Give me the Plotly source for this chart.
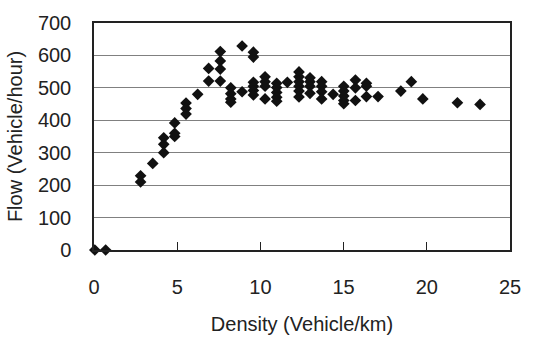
import plotly.graph_objects as go

density = [0.05, 0.7,
           2.8, 2.8, 3.53, 4.19, 4.19, 4.19, 4.85, 4.85, 4.85,
           5.53, 5.53, 5.53, 6.23, 6.89, 6.89,
           7.59, 7.59, 7.59, 7.59,
           8.22, 8.22, 8.22, 8.22, 8.9, 8.9,
           9.58, 9.58, 9.58, 9.58, 9.58, 9.58,
           10.28, 10.28, 10.28, 10.28,
           10.98, 10.98, 10.98, 10.98, 10.98,
           11.62,
           12.32, 12.32, 12.32, 12.32, 12.32, 12.32,
           12.98, 12.98, 12.98, 12.98,
           13.68, 13.68, 13.68, 13.68,
           14.37,
           15.01, 15.01, 15.01, 15.01, 15.01,
           15.71, 15.71, 15.71,
           16.37, 16.37, 16.37,
           17.07, 18.44, 19.07, 19.76, 21.84, 23.2]
flow = [0, 0,
        229, 210, 267, 346, 326, 300, 392, 360, 350,
        453, 436, 419, 480, 560, 521,
        612, 583, 558, 521,
        500, 482, 466, 456, 488, 629,
        610, 595, 517, 505, 492, 478,
        534, 519, 505, 466,
        514, 501, 486, 471, 459,
        517,
        549, 534, 519, 505, 490, 472,
        531, 519, 505, 483,
        519, 505, 488, 466,
        480,
        505, 490, 475, 461, 451,
        524, 500, 461,
        514, 505, 473,
        473, 490, 519, 466, 454, 449]

x_ticks = [0, 5, 10, 15, 20, 25]
y_ticks = [0, 100, 200, 300, 400, 500, 600, 700]

font_family = "Liberation Sans, Arial, sans-serif"

fig = go.Figure()
fig.add_trace(go.Scatter(
    x=density, y=flow, mode="markers",
    marker=dict(symbol="diamond", size=9, color="#111111"),
    cliponaxis=False, showlegend=False,
))

fig.update_layout(
    width=533, height=344,
    margin=dict(l=94, r=21, t=15, b=90),
    paper_bgcolor="white", plot_bgcolor="white",
    font=dict(family=font_family, size=20, color="#222222"),
    xaxis=dict(
        range=[0, 25], tickvals=x_ticks, ticks="inside", ticklen=8,
        tickcolor="#222222", showgrid=False, zeroline=False,
        showline=True, linecolor="#222222", linewidth=1.5, mirror=True,
        tickfont=dict(size=20), ticklabelstandoff=18,
        title=dict(text="Density (Vehicle/km)", font=dict(size=20), standoff=20),
    ),
    yaxis=dict(
        range=[0, 700], tickvals=y_ticks, ticks="", showgrid=True,
        gridcolor="#808080", gridwidth=1, zeroline=False,
        showline=True, linecolor="#222222", linewidth=1.5, mirror=True,
        tickfont=dict(size=20), ticklabelstandoff=17,
        title=dict(text="Flow (Vehicle/hour)", font=dict(size=20), standoff=10),
    ),
)

fig.write_html("out.html")
